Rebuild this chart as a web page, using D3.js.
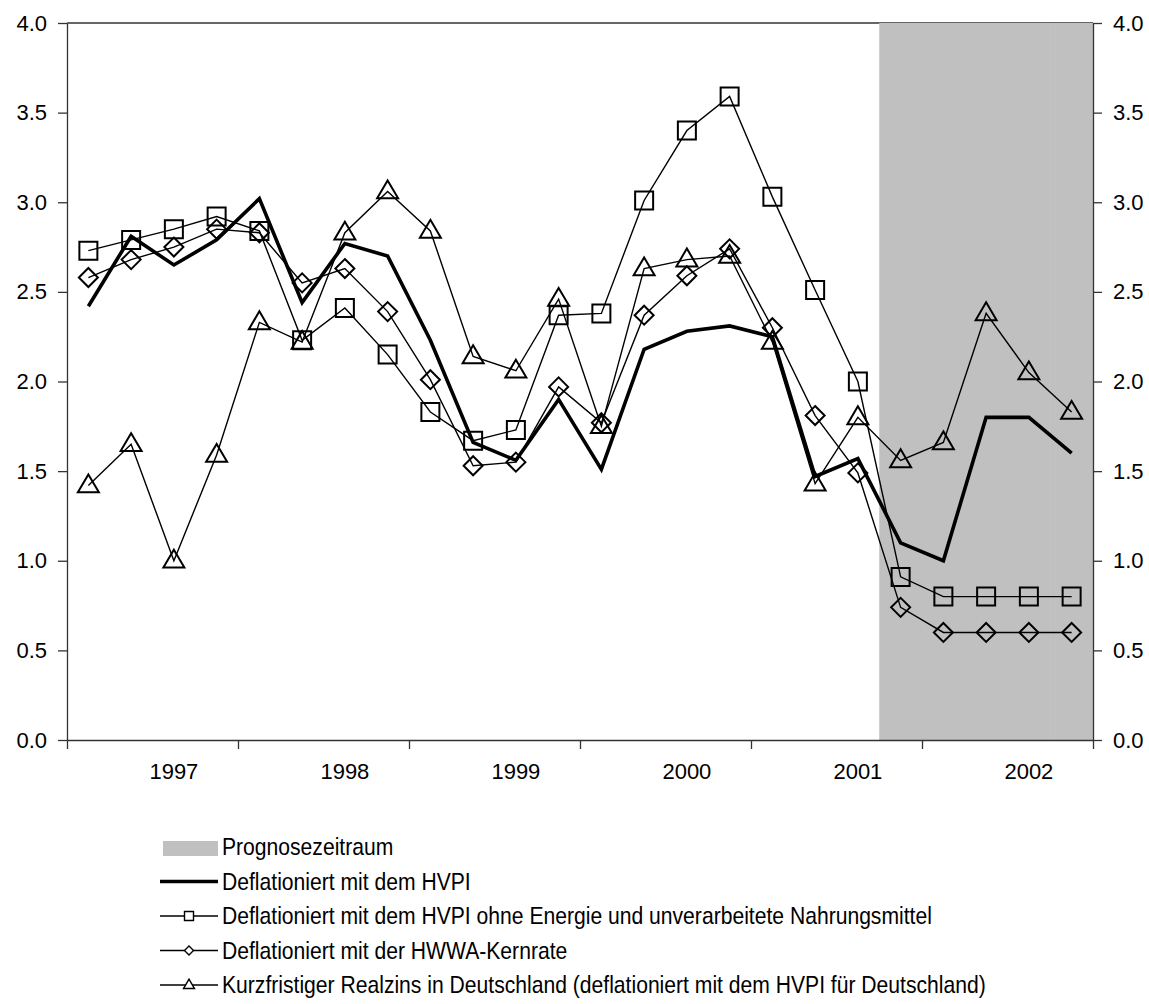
<!DOCTYPE html>
<head>
  <title>Realzins</title>
  <style>
    body { margin: 0; background: #fff; }
    text { font-family: "Liberation Sans", Arial, sans-serif; fill: #000; }
  </style>
</head>
<body>
  <script src="https://cdn.jsdelivr.net/npm/d3@7/dist/d3.min.js"></script>
  <script>
    // DATA (quarters 1996 Q3 - 2002 Q2)
    var quarters = ["1996Q3","1996Q4","1997Q1","1997Q2","1997Q3","1997Q4",
                    "1998Q1","1998Q2","1998Q3","1998Q4","1999Q1","1999Q2",
                    "1999Q3","1999Q4","2000Q1","2000Q2","2000Q3","2000Q4",
                    "2001Q1","2001Q2","2001Q3","2001Q4","2002Q1","2002Q2"];
    var yearLabels = ["1997","1998","1999","2000","2001","2002"];
    var yTicks = [0, 0.5, 1, 1.5, 2, 2.5, 3, 3.5, 4];
    var forecastQuarters = ["2001Q2","2001Q3","2001Q4","2002Q1","2002Q2"];

    var hvpi = [2.42, 2.81, 2.65, 2.79, 3.02, 2.44, 2.77, 2.70, 2.23, 1.66, 1.56, 1.90,
                1.51, 2.18, 2.28, 2.31, 2.25, 1.47, 1.57, 1.10, 1.00, 1.80, 1.80, 1.60];
    var hvpiOhne = [2.73, 2.79, 2.85, 2.92, 2.84, 2.23, 2.41, 2.15, 1.83, 1.67, 1.73, 2.37,
                    2.38, 3.01, 3.40, 3.59, 3.03, 2.51, 2.00, 0.91, 0.80, 0.80, 0.80, 0.80];
    var hwwa = [2.58, 2.68, 2.75, 2.85, 2.83, 2.55, 2.63, 2.39, 2.01, 1.53, 1.55, 1.97,
                1.77, 2.37, 2.59, 2.74, 2.30, 1.81, 1.49, 0.74, 0.60, 0.60, 0.60, 0.60];
    var realzinsDE = [1.42, 1.65, 1.00, 1.59, 2.33, 2.22, 2.83, 3.06, 2.84, 2.14, 2.06, 2.46,
                      1.75, 2.63, 2.68, 2.70, 2.22, 1.43, 1.80, 1.56, 1.66, 2.38, 2.05, 1.83];

    var legendNames = ["Prognosezeitraum",
                       "Deflationiert mit dem HVPI",
                       "Deflationiert mit dem HVPI ohne Energie und unverarbeitete Nahrungsmittel",
                       "Deflationiert mit der HWWA-Kernrate",
                       "Kurzfristiger Realzins in Deutschland (deflationiert mit dem HVPI für Deutschland)"];

    var width = 1149, height = 1004;
    var margin = {top: 23, right: 56, bottom: 264, left: 67};
    var axisColor = "#333";

    var svg = d3.select("body").append("svg")
      .attr("width", width)
      .attr("height", height);

    // scales
    var xScale = d3.scaleBand().domain(quarters).range([margin.left, width - margin.right]).padding(0);
    var xIdx = d3.scaleLinear().domain([0, quarters.length]).range([margin.left, width - margin.right]);
    var yScale = d3.scaleLinear().domain([0, 4]).range([height - margin.bottom, margin.top]);
    var cx = function(q) { return xScale(q) + xScale.bandwidth() / 2; };

    // plot border (top)
    svg.append("line")
      .attr("x1", margin.left).attr("x2", width - margin.right)
      .attr("y1", margin.top).attr("y2", margin.top)
      .attr("stroke", axisColor).attr("stroke-width", 1.3);

    // FORECAST BAND
    svg.append("g").attr("id", "forecast")
      .selectAll("rect")
      .data(forecastQuarters)
      .enter()
      .append("rect")
      .attr("x", function(d) { return xScale(d); })
      .attr("width", xScale.bandwidth() + 0.5)
      .attr("y", yScale(4))
      .attr("height", yScale(0) - yScale(4))
      .attr("fill", "#c0c0c0");

    // AXES
    var yLeft = svg.append("g")
      .attr("transform", "translate(" + margin.left + ",0)")
      .call(d3.axisLeft(yScale).tickValues(yTicks).tickFormat(d3.format(".1f"))
        .tickSize(9).tickSizeOuter(0).tickPadding(11));
    var yRight = svg.append("g")
      .attr("transform", "translate(" + (width - margin.right) + ",0)")
      .call(d3.axisRight(yScale).tickValues(yTicks).tickFormat(d3.format(".1f"))
        .tickSize(9).tickSizeOuter(0).tickPadding(11));
    var xTicks = svg.append("g")
      .attr("transform", "translate(0," + yScale(0) + ")")
      .call(d3.axisBottom(xIdx).tickValues([0, 4, 8, 12, 16, 20, 24]).tickFormat("")
        .tickSize(9).tickSizeOuter(0));
    var xLabels = svg.append("g")
      .attr("transform", "translate(0," + yScale(0) + ")")
      .call(d3.axisBottom(xScale)
        .tickValues(quarters.filter(function(q) { return q.slice(4) == "Q1"; }))
        .tickFormat(function(q) { return yearLabels[yearLabels.indexOf(q.slice(0, 4))]; })
        .tickSize(0).tickPadding(23));
    xLabels.select(".domain").remove();

    [yLeft, yRight, xTicks, xLabels].forEach(function(g) {
      g.selectAll(".domain, .tick line").attr("stroke", axisColor).attr("stroke-width", 1.3);
      g.selectAll("text").style("font-size", "22px").style("font-family", "Liberation Sans, Arial");
    });

    // MARKER SHAPES
    var shapes = {
      square: function(s) { return d3.symbol().type(d3.symbolSquare).size(s * s)(); },
      diamond: function(s) { return "M0," + (-s / 2) + "L" + (s / 2) + ",0L0," + (s / 2) + "L" + (-s / 2) + ",0Z"; },
      triangle: function(s) { var h = s * 0.85; return "M0," + (-h * 0.62) + "L" + (s / 2) + "," + (h * 0.38) + "L" + (-s / 2) + "," + (h * 0.38) + "Z"; }
    };

    var series = [
      {values: realzinsDE, marker: "triangle", size: 21, width: 1.4},
      {values: hwwa, marker: "diamond", size: 19, width: 1.4},
      {values: hvpiOhne, marker: "square", size: 18, width: 1.4},
      {values: hvpi, marker: null, width: 3.6}
    ];

    var line = d3.line()
      .x(function(d, i) { return cx(quarters[i]); })
      .y(function(d) { return yScale(d); });

    var lines = svg.append("g").attr("id", "lines");
    for (let i = 0; i < series.length; i++) {
      var s = series[i];
      lines.append("path")
        .attr("fill", "none")
        .attr("stroke", "#000")
        .attr("stroke-width", s.width)
        .attr("stroke-linejoin", "miter")
        .attr("d", line(s.values));
      if (s.marker) {
        lines.append("g").selectAll("path")
          .data(s.values)
          .enter()
          .append("path")
          .attr("transform", function(d, j) { return "translate(" + cx(quarters[j]) + "," + yScale(d) + ")"; })
          .attr("d", shapes[s.marker](s.size))
          .attr("fill", "none")
          .attr("stroke", "#000")
          .attr("stroke-width", 2);
      }
    }

    // LEGEND
    var legend = svg.append("g").attr("id", "legend");
    var legY = function(i) { return 847 + 34.5 * i; };
    legend.append("rect")
      .attr("x", 163).attr("y", legY(0) - 6)
      .attr("width", 55).attr("height", 15)
      .attr("fill", "#c0c0c0");
    legend.append("line")
      .attr("x1", 160).attr("x2", 218).attr("y1", legY(1)).attr("y2", legY(1))
      .attr("stroke", "#000").attr("stroke-width", 3.6);
    var legMarkers = ["square", "diamond", "triangle"];
    for (let i = 0; i < legMarkers.length; i++) {
      legend.append("line")
        .attr("x1", 160).attr("x2", 218).attr("y1", legY(i + 2)).attr("y2", legY(i + 2))
        .attr("stroke", "#000").attr("stroke-width", 1.4);
      legend.append("path")
        .attr("transform", "translate(189," + legY(i + 2) + ")")
        .attr("d", shapes[legMarkers[i]](legMarkers[i] == "triangle" ? 11 : 9))
        .attr("fill", "#fff")
        .attr("stroke", "#000")
        .attr("stroke-width", 1.4);
    }
    legend.selectAll("text.leg")
      .data(legendNames)
      .enter()
      .append("text")
      .attr("class", "leg")
      .attr("transform", function(d, i) { return "translate(222," + legY(i) + ") scale(0.88,1)"; })
      .attr("dy", "0.35em")
      .style("font-size", "24px")
      .text(function(d) { return d; });
  </script>
</body>
